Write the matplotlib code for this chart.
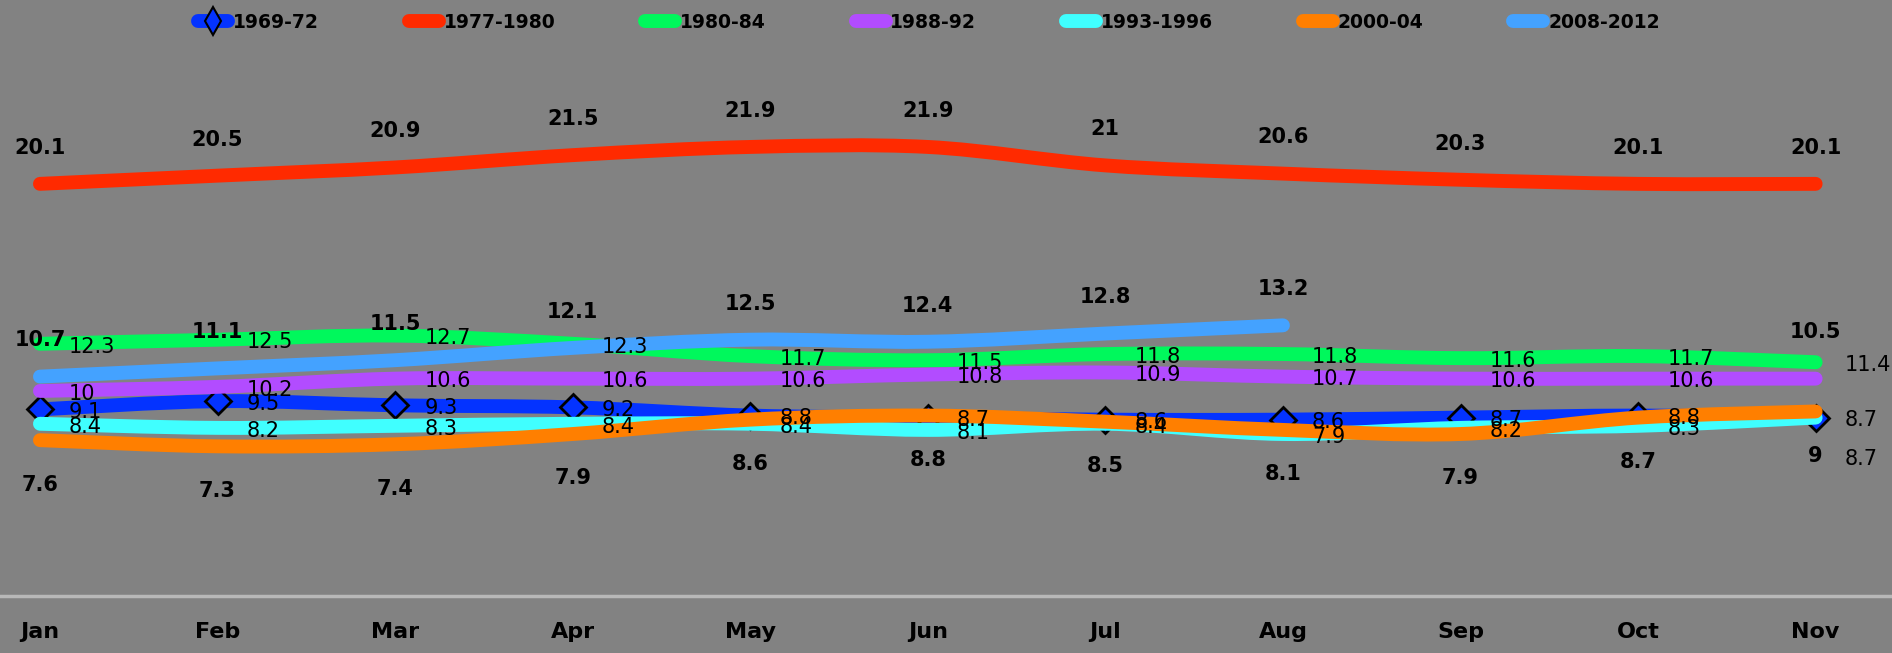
import numpy as np
import matplotlib
matplotlib.use('Agg')
import matplotlib.pyplot as plt
from matplotlib.path import Path
from matplotlib.patches import PathPatch
from matplotlib.lines import Line2D

# ---------------- data ----------------
months = ['Jan', 'Feb', 'Mar', 'Apr', 'May', 'Jun', 'Jul', 'Aug', 'Sep', 'Oct', 'Nov']
s_1969_72 = [9.1, 9.5, 9.3, 9.2, 8.8, 8.7, 8.6, 8.6, 8.7, 8.8, 8.7]
s_1977_1980 = [20.1, 20.5, 20.9, 21.5, 21.9, 21.9, 21.0, 20.6, 20.3, 20.1, 20.1]
s_1980_84 = [12.3, 12.5, 12.7, 12.3, 11.7, 11.5, 11.8, 11.8, 11.6, 11.7, 11.4]
s_1988_92 = [10.0, 10.2, 10.6, 10.6, 10.6, 10.8, 10.9, 10.7, 10.6, 10.6, 10.6]
s_1993_1996 = [8.4, 8.2, 8.3, 8.4, 8.4, 8.1, 8.4, 7.9, 8.2, 8.3, 8.7]
s_2000_04 = [7.6, 7.3, 7.4, 7.9, 8.6, 8.8, 8.5, 8.1, 7.9, 8.7, 9.0]
s_2008_2012 = [10.7, 11.1, 11.5, 12.1, 12.5, 12.4, 12.8, 13.2, np.nan, np.nan, 10.5]

series_names = ['1969-72', '1977-1980', '1980-84', '1988-92', '1993-1996', '2000-04', '2008-2012']
series_values = [s_1969_72, s_1977_1980, s_1980_84, s_1988_92, s_1993_1996, s_2000_04, s_2008_2012]

# ---------------- style ----------------
colors = ['#0433FF', '#FF2A00', '#00F85C', '#B24CFF', '#40FFFF', '#FF7F00', '#44A2FF']
label_pos = ['right', 'above', 'right', 'right', 'right', 'below', 'above']
label_bold = [False, True, False, False, False, True, True]
hidden_labels = {3: [10]}          # series index -> point indices whose label is not shown
label_nudge = {(4, 10): (0, -28), (6, 10): (0, 9)}  # (series, point) -> extra offset in points

BG = '#828282'
LW = 10
FS_LABEL = 15
fam = ['DejaVu Sans']

fig = plt.figure(figsize=(18.92, 6.53), dpi=100, facecolor=BG)
ax = fig.add_axes([0.0, 0.0873, 1.0, 0.785], facecolor=BG)
ax.set_xlim(-0.225, 10.43)
ax.set_ylim(0, 25)


def smooth_paths(xs, ys):
    """Excel-like smoothed line (Catmull-Rom as cubic Bezier) for finite runs."""
    xs = np.asarray(xs, float)
    ys = np.asarray(ys, float)
    ok = np.isfinite(ys)
    runs, cur = [], []
    for i in range(len(xs)):
        if ok[i]:
            cur.append(i)
        else:
            if cur:
                runs.append(cur)
            cur = []
    if cur:
        runs.append(cur)
    paths = []
    for run in runs:
        if len(run) < 2:
            continue
        P = np.column_stack([xs[run], ys[run]])
        n = len(P)
        verts = [P[0]]
        codes = [Path.MOVETO]
        for i in range(n - 1):
            p0 = P[i - 1] if i > 0 else P[i]
            p1 = P[i]
            p2 = P[i + 1]
            p3 = P[i + 2] if i + 2 < n else P[i + 1]
            c1 = p1 + (p2 - p0) / 6.0
            c2 = p2 - (p3 - p1) / 6.0
            verts += [c1, c2, p2]
            codes += [Path.CURVE4] * 3
        paths.append(Path(verts, codes))
    return paths


x = np.arange(len(months))
for si, (name, vals) in enumerate(zip(series_names, series_values)):
    z = 2 + si * 0.1
    for p in smooth_paths(x, vals):
        patch = PathPatch(p, fill=False, edgecolor=colors[si], lw=LW,
                          capstyle='round', joinstyle='round', zorder=z)
        ax.add_patch(patch)
    if si == 0:
        ax.plot(x, vals, linestyle='none', marker='D', ms=13,
                mfc=colors[si], mec='black', mew=2, zorder=z + 0.05)

# data labels
for si, (name, vals) in enumerate(zip(series_names, series_values)):
    for i, v in enumerate(vals):
        if not np.isfinite(v):
            continue
        if i in hidden_labels.get(si, []):
            continue
        pos = label_pos[si]
        if pos == 'above':
            dx, dy, ha, va = 0, 26, 'center', 'center'
        elif pos == 'below':
            dx, dy, ha, va = 0, -32, 'center', 'center'
        else:
            dx, dy, ha, va = 21, -2, 'left', 'center'
        ndx, ndy = label_nudge.get((si, i), (0, 0))
        ax.annotate(f"{v:g}", (x[i], v), xytext=(dx + ndx, dy + ndy),
                    textcoords='offset points', ha=ha, va=va,
                    fontsize=FS_LABEL, family=fam,
                    fontweight='bold' if label_bold[si] else 'normal',
                    color='black', zorder=20, annotation_clip=False)

# axes styling
for s in ['top', 'right', 'left']:
    ax.spines[s].set_visible(False)
ax.spines['bottom'].set_color('#b8b8b8')
ax.spines['bottom'].set_linewidth(2.5)
ax.set_yticks([])
ax.set_xticks(x)
ax.set_xticklabels(months, fontsize=16, fontweight='bold', family=fam)
ax.tick_params(axis='x', length=0, pad=19, colors='black')

# legend
handles = []
for si, name in enumerate(series_names):
    if si == 0:
        h = Line2D([], [], color=colors[si], lw=LW, solid_capstyle='round',
                   marker='d', ms=14, mfc=colors[si], mec='black', mew=1.5)
    else:
        h = Line2D([], [], color=colors[si], lw=LW, solid_capstyle='round')
    handles.append(h)
fig.legend(handles, series_names, loc='center', bbox_to_anchor=(0.491, 0.966),
           bbox_transform=fig.transFigure, ncol=7, frameon=False,
           handlelength=1.6, handletextpad=0.25, columnspacing=4.8,
           prop={'size': 13.5, 'weight': 'bold', 'family': fam})

fig.savefig('out.png', dpi=100, facecolor=BG)
